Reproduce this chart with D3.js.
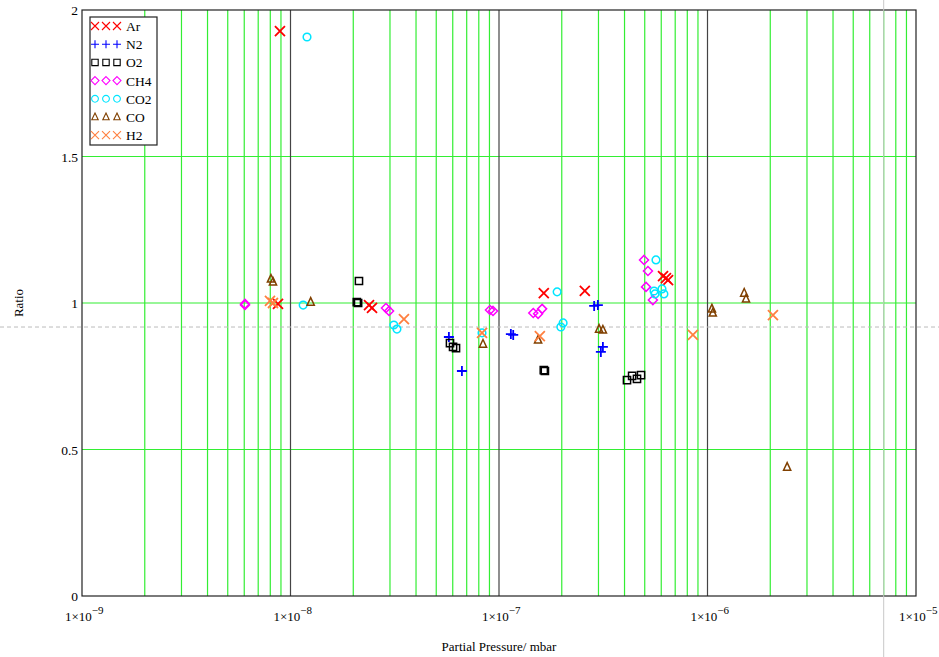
<!DOCTYPE html>
<html>
<head>
<meta charset="utf-8">
<script src="https://cdn.jsdelivr.net/npm/d3@7"></script>
<style>
  body { margin: 0; background: #fff; }
  text { font-family: "Liberation Serif", "Times New Roman", serif; fill: #000; }
</style>
</head>
<body>
<div id="chart"></div>
<script>
// series: [pressure in mbar, ratio]
const ar  = [[8.9e-9, 1.928], [8.71e-9, 0.997], [2.38e-8, 0.993], [2.46e-8, 0.983], [1.64e-7, 1.034],
             [2.58e-7, 1.041], [6.12e-7, 1.092], [6.32e-7, 1.085], [6.47e-7, 1.078]];
const n2  = [[5.75e-8, 0.884], [6.64e-8, 0.768], [1.14e-7, 0.894], [1.17e-7, 0.891], [2.86e-7, 0.990],
             [2.98e-7, 0.993], [3.08e-7, 0.833], [3.15e-7, 0.850]];
const o2  = [[2.13e-8, 1.075], [2.08e-8, 1.003], [2.11e-8, 1.0], [5.82e-8, 0.863], [6.02e-8, 0.850],
             [6.22e-8, 0.846], [1.64e-7, 0.771], [1.66e-7, 0.768], [4.11e-7, 0.737], [4.35e-7, 0.751],
             [4.59e-7, 0.741], [4.80e-7, 0.754]];
const ch4 = [[6.05e-9, 0.993], [6.05e-9, 0.997], [2.87e-8, 0.983], [2.97e-8, 0.973], [9.05e-8, 0.976],
             [9.36e-8, 0.973], [1.46e-7, 0.966], [1.54e-7, 0.963], [1.61e-7, 0.980], [4.96e-7, 1.147],
             [5.18e-7, 1.109], [5.07e-7, 1.055], [5.47e-7, 1.010]];
const co2 = [[1.20e-8, 1.908], [1.15e-8, 0.993], [3.13e-8, 0.925], [3.24e-8, 0.911], [8.29e-8, 0.898],
             [1.90e-7, 1.038], [1.98e-7, 0.918], [2.03e-7, 0.932], [5.66e-7, 1.147], [5.54e-7, 1.041],
             [5.60e-7, 1.031], [6.05e-7, 1.048], [6.18e-7, 1.031]];
const co  = [[8.06e-9, 1.082], [8.24e-9, 1.072], [1.25e-8, 1.003], [8.38e-8, 0.860], [1.54e-7, 0.874],
             [3.02e-7, 0.911], [3.15e-7, 0.908], [1.05e-6, 0.980], [1.06e-6, 0.966], [1.50e-6, 1.034],
             [1.53e-6, 1.014], [2.41e-6, 0.440]];
const h2  = [[7.97e-9, 1.007], [8.24e-9, 1.0], [3.50e-8, 0.945], [8.29e-8, 0.898], [1.57e-7, 0.887],
             [8.51e-7, 0.891], [2.06e-6, 0.959]];

const seriesNames = ["Ar", "N2", "O2", "CH4", "CO2", "CO", "H2"];
const seriesData = [ar, n2, o2, ch4, co2, co, h2];
const decades = [-9, -8, -7, -6, -5];
const yTicks = [0, 0.5, 1, 1.5, 2];
const cursorX = 7.0e-6, cursorY = 0.918;

const W = 939, H = 657;
const margin = { top: 10, right: 23, bottom: 61, left: 82 };

const svg = d3.select("#chart").append("svg").attr("width", W).attr("height", H);

const x = d3.scaleLog().domain([1e-9, 1e-5]).range([margin.left, W - margin.right]);
const y = d3.scaleLinear().domain([0, 2]).range([H - margin.bottom, margin.top]);

const styles = {
  Ar:  { shape: "x", color: "#ff0000" },
  N2:  { shape: "plus", color: "#0000ff" },
  O2:  { shape: "square", color: "#000000" },
  CH4: { shape: "diamond", color: "#ff00ff" },
  CO2: { shape: "circle", color: "#00e5ff" },
  CO:  { shape: "triangle", color: "#804000" },
  H2:  { shape: "x", color: "#ff8040" }
};

function marker(shape, r) {
  const p = d3.path();
  if (shape === "x") {
    p.moveTo(-r, -r); p.lineTo(r, r); p.moveTo(-r, r); p.lineTo(r, -r);
  } else if (shape === "plus") {
    p.moveTo(-r, 0); p.lineTo(r, 0); p.moveTo(0, -r); p.lineTo(0, r);
  } else if (shape === "square") {
    p.rect(-r * 0.8, -r * 0.8, r * 1.6, r * 1.6);
  } else if (shape === "diamond") {
    p.moveTo(0, -r); p.lineTo(r, 0); p.lineTo(0, r); p.lineTo(-r, 0); p.closePath();
  } else if (shape === "circle") {
    p.arc(0, 0, r * 0.85, 0, 2 * Math.PI);
  } else if (shape === "triangle") {
    p.moveTo(0, -r); p.lineTo(r * 0.8, r * 0.7); p.lineTo(-r * 0.8, r * 0.7); p.closePath();
  }
  return p.toString();
}

// grid
const grid = svg.append("g");
decades.slice(0, -1).forEach(e => {
  for (let m = 2; m <= 9; m++) {
    const v = m * Math.pow(10, e);
    grid.append("line")
      .attr("x1", x(v)).attr("x2", x(v))
      .attr("y1", y(0)).attr("y2", y(2))
      .attr("stroke", "#33ee33").attr("stroke-width", 1.2);
  }
});
[0.5, 1, 1.5].forEach(t => {
  grid.append("line")
    .attr("x1", x(1e-9)).attr("x2", x(1e-5))
    .attr("y1", y(t)).attr("y2", y(t))
    .attr("stroke", "#33ee33").attr("stroke-width", 1.2);
});
decades.slice(1, -1).forEach(e => {
  const v = Math.pow(10, e);
  grid.append("line")
    .attr("x1", x(v)).attr("x2", x(v))
    .attr("y1", y(0)).attr("y2", y(2))
    .attr("stroke", "#444").attr("stroke-width", 1.2);
});

// frame
svg.append("rect")
  .attr("x", x(1e-9)).attr("y", y(2))
  .attr("width", x(1e-5) - x(1e-9)).attr("height", y(0) - y(2))
  .attr("fill", "none").attr("stroke", "#222").attr("stroke-width", 1.2);

// cursor lines
svg.append("line")
  .attr("x1", 0).attr("x2", W).attr("y1", y(cursorY)).attr("y2", y(cursorY))
  .attr("stroke", "#bbb").attr("stroke-dasharray", "4,3");
svg.append("line")
  .attr("x1", x(cursorX)).attr("x2", x(cursorX)).attr("y1", 0).attr("y2", H)
  .attr("stroke", "#c8c8c8");

// y tick labels
yTicks.forEach(t => {
  svg.append("text")
    .attr("x", x(1e-9) - 4).attr("y", y(t) + 5)
    .attr("text-anchor", "end").attr("font-size", 13.5)
    .text(t);
});

// x tick labels
decades.forEach(e => {
  const t = svg.append("text")
    .attr("x", x(Math.pow(10, e)) - 17).attr("y", 621)
    .attr("text-anchor", "start").attr("font-size", 13);
  t.append("tspan").text("1×10");
  t.append("tspan").attr("dy", -7).attr("font-size", 11).text("\u2212" + (-e));
});

// axis titles
svg.append("text")
  .attr("x", (x(1e-9) + x(1e-5)) / 2).attr("y", 651)
  .attr("text-anchor", "middle").attr("font-size", 13)
  .text("Partial Pressure/ mbar");
svg.append("text")
  .attr("transform", `translate(23,${y(1)}) rotate(-90)`)
  .attr("text-anchor", "middle").attr("font-size", 13)
  .text("Ratio");

// points
seriesNames.forEach((name, i) => {
  const st = styles[name];
  svg.append("g").selectAll("path")
    .data(seriesData[i])
    .enter().append("path")
    .attr("transform", d => `translate(${x(d[0])},${y(d[1])})`)
    .attr("d", marker(st.shape, st.shape === "x" || st.shape === "plus" ? 5 : 4.5))
    .attr("fill", "none")
    .attr("stroke", st.color)
    .attr("stroke-width", st.shape === "x" || st.shape === "plus" ? 1.8 : 1.5);
});

// legend
const legend = svg.append("g").attr("transform", "translate(90,17)");
legend.append("rect")
  .attr("width", 67).attr("height", 128)
  .attr("fill", "#fff").attr("stroke", "#222").attr("stroke-width", 1.2);
seriesNames.forEach((name, i) => {
  const st = styles[name];
  const cy = 9 + i * 18.2;
  [5, 16, 27].forEach(cx => {
    legend.append("path")
      .attr("transform", `translate(${cx},${cy})`)
      .attr("d", marker(st.shape, 4))
      .attr("fill", "none").attr("stroke", st.color).attr("stroke-width", 1.1);
  });
  legend.append("text")
    .attr("x", 36).attr("y", cy + 5)
    .attr("font-size", 13.5)
    .text(name);
});
</script>
</body>
</html>
